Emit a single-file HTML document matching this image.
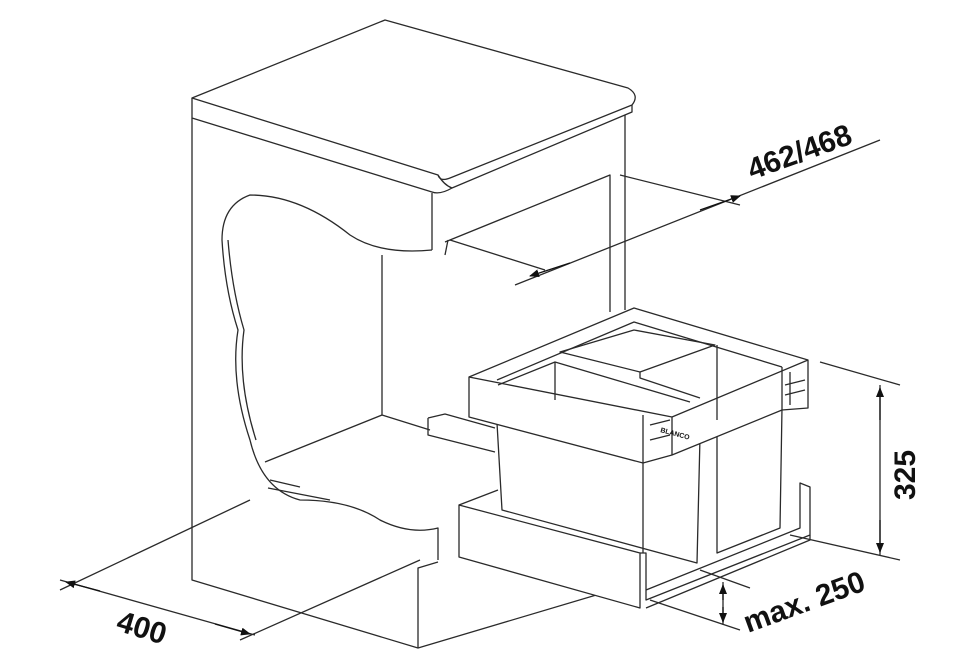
<!DOCTYPE html>
<html><head><style>
html,body{margin:0;padding:0;background:#fff;}
svg{display:block;}
text{font-family:"Liberation Sans",sans-serif;font-weight:bold;fill:#111;}
</style></head><body>
<svg width="960" height="671" viewBox="0 0 960 671" xmlns="http://www.w3.org/2000/svg">
<defs>
<marker id="ar" markerWidth="10" markerHeight="8" refX="9" refY="4" orient="auto" markerUnits="userSpaceOnUse">
<path d="M0,0 L10,4 L0,8 z" fill="#111"/></marker>
</defs>
<g fill="none" stroke="#2a2a2a" stroke-width="1.3" stroke-linejoin="round">
<!-- countertop -->
<path d="M192,98 L385,20 L628,88 Q640,95 632,105 L450,178 Q440,182 438,175 Z" fill="#fff"/>
<path d="M192,98 L192,118 L432,192 Q440,195 452,188 L632,112 L632,105"/>
<path d="M438,175 Q444,185 452,188"/>
<!-- cabinet -->
<path d="M192,118 L192,580 L418,648 L640,582"/>
<path d="M418,648 L418,568 L438,562"/>
<path d="M432,193 L432,250"/>
<path d="M625,115 L625,310"/>
<path d="M382,255 L382,415 L430,430"/>
<path d="M445,242 L610,175 L610,312"/>
<path d="M448,240 L445,255"/>
<!-- wavy cut -->
<path d="M432,250 Q380,255 350,235 Q300,195 250,195 Q222,205 222,240 Q225,290 238,330 Q230,380 250,440 Q262,490 300,500 Q350,500 380,520 Q410,535 438,528 L438,560"/>
<path d="M228,240 Q232,290 244,330 Q237,380 256,440"/>
<path d="M268,488 L330,500 M270,480 L300,487"/>
<path d="M265,462 L382,415"/>
<!-- rail -->
<path d="M428,418 L428,435 L495,452 M428,418 L445,414 L495,428"/>
<!-- tray -->
<path d="M459,505 L640,553 L640,608 L459,557 Z" fill="#fff"/>
<path d="M459,505 L498,490 M640,553 L646,553 L646,600 L810,535 L810,487 L800,483 L800,528 L646,590"/>
<path d="M646,608 L810,540 L810,535"/>
<!-- bins -->
<path d="M717,420 L717,553 L780,528 L782,408" fill="#fff"/>
<path d="M497,423 L502,510 L697,563 L700,437" fill="#fff"/>
<path d="M643,463 L643,553"/>
<!-- basket frame -->
<path d="M469,377 L634,308 L808,360 L808,408 L782,410 L672,455 L643,463 L469,417 Z" fill="#fff"/>
<path d="M469,377 L672,417 L808,360"/>
<path d="M672,417 L672,455"/>
<path d="M643,415 L643,463"/>
<path d="M497,380 L634,322 L782,367"/>
<path d="M498,385 L555,362 L690,402"/>
<path d="M560,352 L634,330 L715,345 L640,372 Z"/>
<path d="M555,362 L555,400 M717,345 L717,420 M640,372 L640,378 L700,398"/>
<path d="M782,367 L782,410 M790,372 L790,405 M650,425 L670,420 M650,440 L670,435 M785,385 L805,380 M785,395 L805,390"/>
<!-- dimension lines -->
<path d="M620,175 L740,205 M450,240 L545,270 M515,285 L880,140"/>
<path d="M60,590 L250,500 M240,640 L420,560 M60,580 L255,635"/>
<path d="M820,362 L900,385 M790,535 L900,560 M880,385 L880,555"/>
<path d="M700,570 L750,588 M650,600 L740,630 M723,582 L723,625"/>
</g>
<g stroke="#111" stroke-width="1.3">
<line x1="700" y1="210" x2="740" y2="196" marker-end="url(#ar)"/>
<line x1="570" y1="263" x2="530" y2="276" marker-end="url(#ar)"/>
<line x1="100" y1="591" x2="66" y2="582" marker-end="url(#ar)"/>
<line x1="215" y1="624" x2="250" y2="634" marker-end="url(#ar)"/>
<line x1="880" y1="420" x2="880" y2="388" marker-end="url(#ar)"/>
<line x1="880" y1="520" x2="880" y2="552" marker-end="url(#ar)"/>
<line x1="723" y1="600" x2="723" y2="585" marker-end="url(#ar)"/>
<line x1="723" y1="607" x2="723" y2="622" marker-end="url(#ar)"/>
</g>
<text x="660" y="432" font-size="8" transform="rotate(15 660 432)" style="font-size:7px">BLANCO</text>
<text x="0" y="0" font-size="30" transform="translate(752,180) rotate(-20)">462/468</text>
<text x="0" y="0" font-size="30" transform="translate(115,630) rotate(17)">400</text>
<text x="0" y="0" font-size="30" transform="translate(915,500) rotate(-90)">325</text>
<text x="0" y="0" font-size="30" transform="translate(748,633) rotate(-20)">max. 250</text>
</svg>
</body></html>
